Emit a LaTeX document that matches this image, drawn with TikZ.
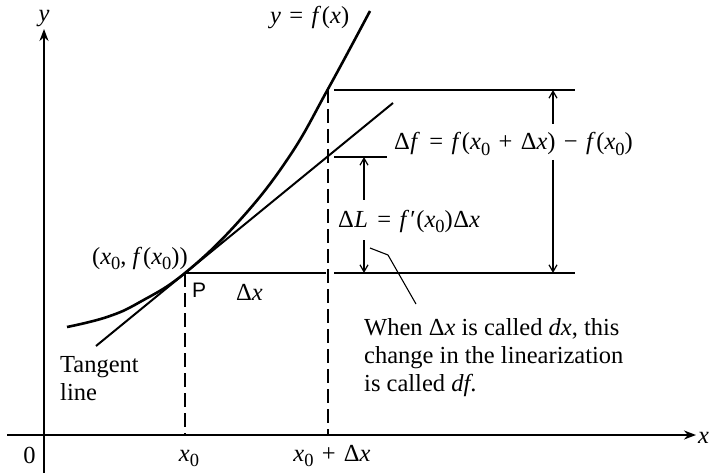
\documentclass[tikz,border=0pt]{standalone}
\usepackage{fontspec}
\setmainfont{Liberation Serif}
\setsansfont{Liberation Sans}
\usetikzlibrary{arrows.meta}
\newcommand{\iv}[1]{\textit{#1}}
\newcommand{\fv}{\textit{f}\kern0.8pt}
\newcommand{\op}[1]{\hspace{0.34em}#1\hspace{0.34em}}
\newcommand{\mysub}[1]{\raisebox{-5.5pt}{\fontsize{18.5}{18.5}\selectfont #1}}
\begin{document}
\begin{tikzpicture}[x=1pt,y=-1pt,
  every node/.style={font=\fontsize{24.5}{28}\selectfont, inner sep=0pt},
  axis/.style={line width=1.8pt, -{Stealth[length=12pt,width=9pt]}},
  curveline/.style={line width=2.6pt},
  thinline/.style={line width=2pt},
  guide/.style={line width=1.4pt, dash pattern=on 14pt off 6pt},
  dimarrow/.style={line width=1.2pt, -{Straight Barb[length=7pt,width=8pt]}},
  leader/.style={line width=1.1pt}]
\useasboundingbox (0,0) rectangle (709,473);
% key points
\coordinate (xstart) at (7,435);
\coordinate (xend) at (696,435);
\coordinate (ybot) at (44,473);
\coordinate (yend) at (44,29);
\coordinate (P) at (185,273);
\coordinate (Q) at (328,89);
\coordinate (A) at (185,435);
\coordinate (B) at (328,435);
\coordinate (tanlow) at (96,346);
\coordinate (tanhigh) at (393,103);
% axes
\draw[axis] (xstart) -- (xend);
\draw[axis] (ybot) -- (yend);
% curve and tangent
\draw[curveline] plot[smooth, tension=0.7] coordinates {(67,327) (107,317) (140,302) (185,273) (240,220) (289,157) (328,89) (370,11)};
\draw[thinline] (tanlow) -- (tanhigh);
% guides
\draw[guide] (P) -- (A);
\draw[guide] (Q) -- (B);
% horizontal levels
\draw[thinline] (P) -- (326,273);
\draw[thinline] (334,273) -- (575,273);
\draw[thinline] (334,90) -- (575,90);
\draw[thinline] (334,157) -- (387,157);
% dimension arrows
\draw[dimarrow] (364,200) -- (364,157);
\draw[dimarrow] (364,240) -- (364,273);
\draw[dimarrow] (553,124) -- (553,90);
\draw[dimarrow] (553,160) -- (553,273);
% labels
\node[anchor=base west] (dL) at (338,227) {Δ\kern0.5pt\iv{L}\kern1pt\op{=}\fv\kern0.5pt′\kern0.5pt(\iv{x}\mysub{0})\kern0.5ptΔ\iv{x}};
\node[anchor=base west] (dF) at (394,150) {Δ\kern0.5pt\iv{f}\kern1pt\op{=}\fv(\iv{x}\mysub{0}\op{+}Δ\iv{x})\op{−}\fv(\iv{x}\mysub{0})};
\node[anchor=base west] (yfx) at (270,24) {\iv{y}\op{=}\fv(\iv{x})};
\node[anchor=base west] (pt) at (92,264) {(\iv{x}\mysub{0}, \fv(\iv{x}\mysub{0}))};
\node[anchor=base west, font=\sffamily\fontsize{21}{24}\selectfont] (Plab) at (192,297) {P};
\node[anchor=base west] (dx) at (236,300) {Δ\iv{x}};
\node[anchor=north west, align=left] (tan) at (60,356) {Tangent\\line};
\node[anchor=north west, align=left] (note) at (364,318) {When Δ\iv{x} is called \iv{dx}, this\\change in the linearization\\is called \iv{df}.};
\coordinate (l1) at (370,248);
\coordinate (l2) at (388,255);
\coordinate (l3) at (416,304);
\draw[leader] (l1) -- (l2) -- (l3);
% axis labels
\node[anchor=base] (zero) at (29.5,463) {0};
\node[anchor=base] (x0) at (189,461) {\iv{x}\mysub{0}};
\node[anchor=base] (x0dx) at (332,461) {\iv{x}\mysub{0}\op{+}Δ\iv{x}};
\node[anchor=base west] (xl) at (698,443) {\iv{x}};
\node[anchor=base] (yl) at (44,22) {\iv{y}};
\end{tikzpicture}
\end{document}
